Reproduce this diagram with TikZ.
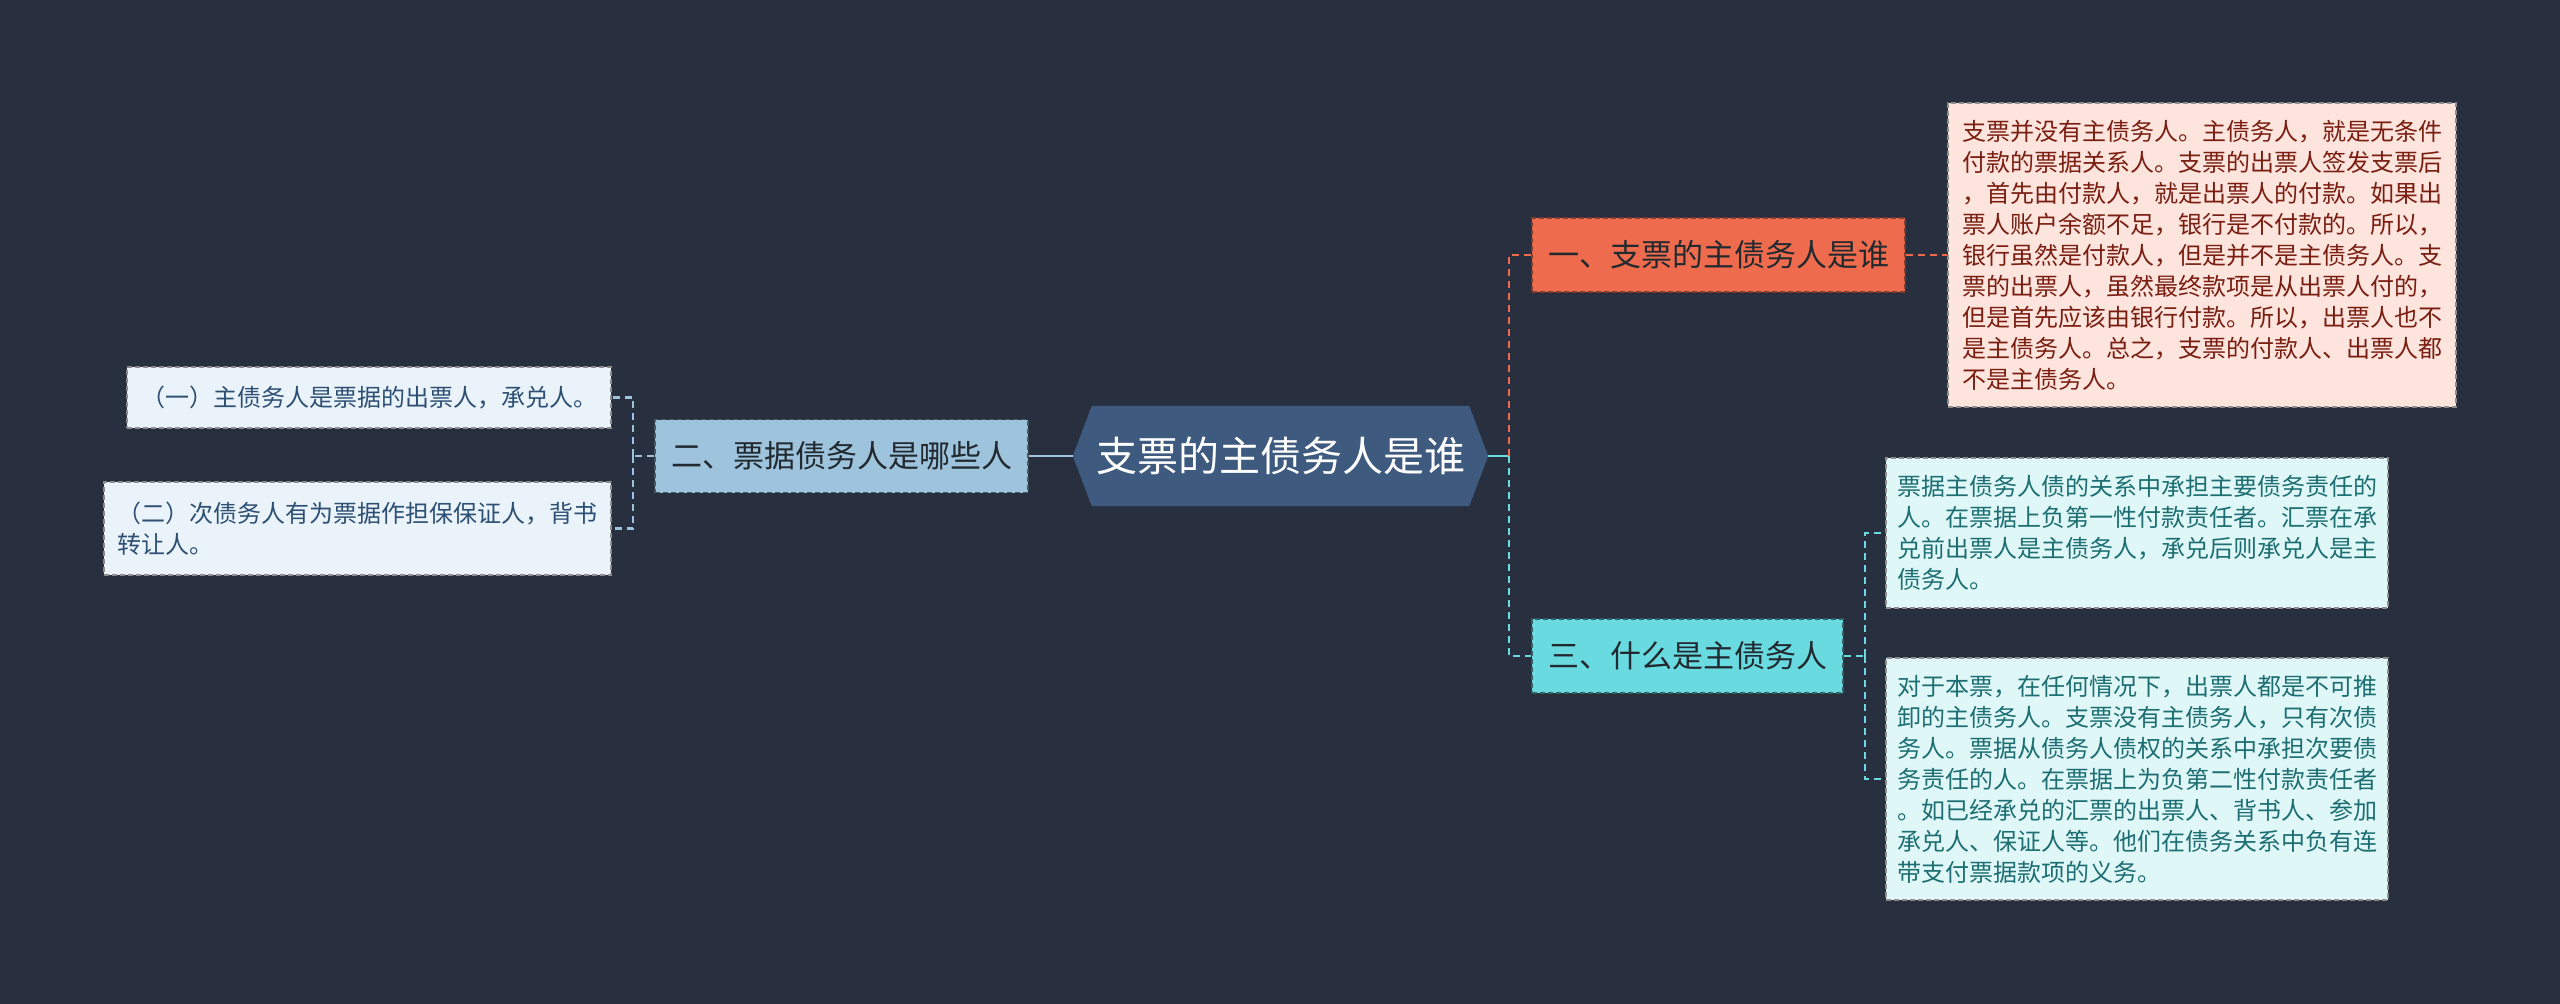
\documentclass[tikz,border=0pt]{standalone}
\usepackage{fontspec}
\newfontfamily\cjk{Noto Sans CJK SC}
\usetikzlibrary{backgrounds}
\definecolor{bg}{HTML}{283040}
\definecolor{rootfill}{HTML}{3E5A7E}
\definecolor{orangec}{HTML}{EE6C4D}
\definecolor{cyanc}{HTML}{68DAE0}
\definecolor{bluec}{HTML}{9EC3DD}
\definecolor{pinkfill}{HTML}{FDE4DD}
\definecolor{pinktext}{HTML}{7A1E12}
\definecolor{lcyanfill}{HTML}{E0F7F8}
\definecolor{lcyantext}{HTML}{1C6E72}
\definecolor{lbluefill}{HTML}{EAF3FA}
\definecolor{lbluetext}{HTML}{2C4F73}
\definecolor{darktext}{HTML}{222A30}
\begin{document}
\begin{tikzpicture}[x=1pt,y=-1pt,
  boxbase/.style={rectangle, inner sep=0pt, line width=1.5pt, dash pattern=on 5pt off 3pt},
  lvlone/.style={boxbase, minimum height=74pt, text=darktext, font={\cjk\fontsize{31}{36}\selectfont}},
  leafbox/.style={boxbase, align=left, draw=black!45, font={\cjk\fontsize{24}{31}\selectfont}},
  conn/.style={line width=2.5pt, dash pattern=on 7pt off 5pt},
]
\useasboundingbox (0,0) rectangle (2560,1004);
\begin{scope}[on background layer]
  \fill[bg] (0,0) rectangle (2560,1004);
\end{scope}

% root
\node[rectangle, minimum width=415pt, minimum height=100pt, inner sep=0pt, text=white,
      font={\cjk\fontsize{41}{48}\selectfont}] (root) at (1280.5,456) {支票的主债务人是谁};
\begin{scope}[on background layer]
  \fill[rootfill] ([xshift=19pt]root.north west) -- ([xshift=-19pt]root.north east) -- (root.east)
     -- ([xshift=-19pt]root.south east) -- ([xshift=19pt]root.south west) -- (root.west) -- cycle;
\end{scope}

% level one
\node[lvlone, fill=orangec, draw=orangec!55!black, minimum width=373pt] (n1) at (1718.5,255) {一、支票的主债务人是谁};
\node[lvlone, fill=cyanc, draw=cyanc!45!black, minimum width=311pt] (n3) at (1687.5,656) {三、什么是主债务人};
\node[lvlone, fill=bluec, draw=bluec!45!black, minimum width=373pt, minimum height=73pt] (n2) at (841.5,456) {二、票据债务人是哪些人};

% leaves right
\node[leafbox, fill=pinkfill, text=pinktext, minimum width=508pt, minimum height=304pt] (t1) at (2202,255)
{支票并没有主债务人。主债务人，就是无条件\\
付款的票据关系人。支票的出票人签发支票后\\
，首先由付款人，就是出票人的付款。如果出\\
票人账户余额不足，银行是不付款的。所以，\\
银行虽然是付款人，但是并不是主债务人。支\\
票的出票人，虽然最终款项是从出票人付的，\\
但是首先应该由银行付款。所以，出票人也不\\
是主债务人。总之，支票的付款人、出票人都\\
不是主债务人。};

\node[leafbox, fill=lcyanfill, text=lcyantext, minimum width=502pt, minimum height=150pt] (t2) at (2137,533)
{票据主债务人债的关系中承担主要债务责任的\\
人。在票据上负第一性付款责任者。汇票在承\\
兑前出票人是主债务人，承兑后则承兑人是主\\
债务人。};

\node[leafbox, fill=lcyanfill, text=lcyantext, minimum width=502pt, minimum height=242pt] (t3) at (2137,779)
{对于本票，在任何情况下，出票人都是不可推\\
卸的主债务人。支票没有主债务人，只有次债\\
务人。票据从债务人债权的关系中承担次要债\\
务责任的人。在票据上为负第二性付款责任者\\
。如已经承兑的汇票的出票人、背书人、参加\\
承兑人、保证人等。他们在债务关系中负有连\\
带支付票据款项的义务。};

% leaves left
\node[leafbox, fill=lbluefill, text=lbluetext, minimum width=484pt, minimum height=61pt] (la) at (369,397.5)
{（一）主债务人是票据的出票人，承兑人。};
\node[leafbox, fill=lbluefill, text=lbluetext, minimum width=507pt, minimum height=93pt] (lb) at (357.5,528.5)
{（二）次债务人有为票据作担保保证人，背书\\
转让人。};

% junctions
\coordinate (jr) at (1509,456);
\coordinate (jr3) at (1865,656);
\coordinate (jl) at (633,456);

% connectors
\draw[cyanc, line width=2.5pt] (root.east) -- (jr);
\draw[conn, orangec] (jr) |- (n1.west);
\draw[conn, cyanc] (jr) |- (n3.west);
\draw[bluec, line width=2.5pt] (root.west) -- (n2.east);
\draw[conn, orangec] (n1.east) -- (t1.west);
\draw[conn, cyanc] (n3.east) -- (jr3);
\draw[conn, cyanc] (jr3) |- (t2.west);
\draw[conn, cyanc] (jr3) |- (t3.west);
\draw[conn, bluec] (n2.west) -- (jl);
\draw[conn, bluec] (jl) |- (la.east);
\draw[conn, bluec] (jl) |- (lb.east);
\end{tikzpicture}
\end{document}
